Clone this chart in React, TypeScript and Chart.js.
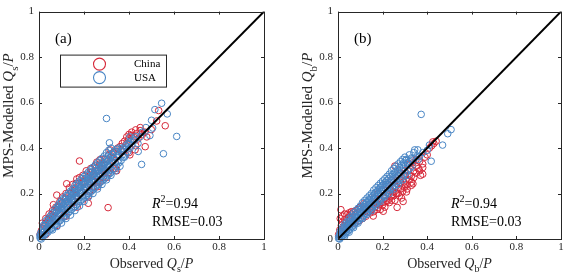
import React, { useEffect, useRef } from 'react';
import { Chart, registerables } from 'chart.js';

Chart.register(...registerables);

// ---------- data ----------
const AXIS_TICKS = [0, 0.2, 0.4, 0.6, 0.8, 1];
const TICK_LABELS = ['0', '0.2', '0.4', '0.6', '0.8', '1'];
const ONE_TO_ONE = [[0, 0], [1, 1]];

// Panel (a): Qs/P
const USA_A = [
  [0.005, 0.004], [0.005, 0.012], [0.005, 0.02], [0.01, 0.0], [0.01, 0.015], [0.01, 0.03],
  [0.018, 0.01], [0.018, 0.028], [0.018, 0.045], [0.025, 0.018], [0.025, 0.035], [0.025, 0.055],
  [0.032, 0.025], [0.032, 0.045], [0.032, 0.065], [0.04, 0.03], [0.04, 0.05], [0.04, 0.072],
  [0.048, 0.04], [0.048, 0.062], [0.048, 0.083], [0.055, 0.045], [0.055, 0.07], [0.055, 0.09],
  [0.063, 0.052], [0.063, 0.078], [0.063, 0.1], [0.07, 0.06], [0.07, 0.085], [0.07, 0.11],
  [0.078, 0.065], [0.078, 0.095], [0.078, 0.12], [0.085, 0.075], [0.085, 0.1], [0.085, 0.128], [0.085, 0.145],
  [0.093, 0.08], [0.093, 0.11], [0.093, 0.135], [0.1, 0.088], [0.1, 0.115], [0.1, 0.142], [0.1, 0.16],
  [0.108, 0.095], [0.108, 0.125], [0.108, 0.15], [0.115, 0.1], [0.115, 0.13], [0.115, 0.158], [0.115, 0.175],
  [0.123, 0.11], [0.123, 0.14], [0.123, 0.165], [0.13, 0.115], [0.13, 0.148], [0.13, 0.172], [0.13, 0.19],
  [0.138, 0.122], [0.138, 0.155], [0.138, 0.18], [0.145, 0.13], [0.145, 0.162], [0.145, 0.19], [0.145, 0.205],
  [0.153, 0.138], [0.153, 0.17], [0.153, 0.198], [0.16, 0.142], [0.16, 0.178], [0.16, 0.205], [0.16, 0.222],
  [0.168, 0.15], [0.168, 0.185], [0.168, 0.212], [0.175, 0.158], [0.175, 0.19], [0.175, 0.22], [0.175, 0.238],
  [0.183, 0.165], [0.183, 0.2], [0.183, 0.228], [0.19, 0.172], [0.19, 0.205], [0.19, 0.235], [0.19, 0.252],
  [0.198, 0.18], [0.198, 0.215], [0.198, 0.242], [0.205, 0.185], [0.205, 0.22], [0.205, 0.25], [0.205, 0.265],
  [0.213, 0.192], [0.213, 0.228], [0.213, 0.258], [0.22, 0.2], [0.22, 0.235], [0.22, 0.262], [0.22, 0.28],
  [0.228, 0.205], [0.228, 0.242], [0.228, 0.27], [0.235, 0.212], [0.235, 0.25], [0.235, 0.278], [0.235, 0.295],
  [0.243, 0.22], [0.243, 0.258], [0.243, 0.285], [0.25, 0.228], [0.25, 0.262], [0.25, 0.29], [0.25, 0.31],
  [0.258, 0.235], [0.258, 0.27], [0.258, 0.298], [0.265, 0.24], [0.265, 0.278], [0.265, 0.305], [0.265, 0.322],
  [0.273, 0.25], [0.273, 0.285], [0.273, 0.312], [0.28, 0.255], [0.28, 0.292], [0.28, 0.32], [0.28, 0.335],
  [0.288, 0.262], [0.288, 0.3], [0.288, 0.328], [0.295, 0.27], [0.295, 0.305], [0.295, 0.335], [0.295, 0.35],
  [0.303, 0.278], [0.303, 0.315], [0.303, 0.342], [0.31, 0.285], [0.31, 0.32], [0.31, 0.35], [0.31, 0.37],
  [0.318, 0.29], [0.318, 0.33], [0.318, 0.36], [0.325, 0.3], [0.325, 0.34], [0.325, 0.372],
  [0.335, 0.31], [0.335, 0.35], [0.335, 0.385], [0.345, 0.32], [0.345, 0.36], [0.345, 0.395],
  [0.355, 0.335], [0.355, 0.372], [0.355, 0.4], [0.365, 0.345], [0.365, 0.385], [0.375, 0.36], [0.375, 0.395],
  [0.385, 0.37], [0.385, 0.41], [0.395, 0.385], [0.395, 0.42], [0.405, 0.4], [0.405, 0.43],
  [0.02, 0.06], [0.03, 0.08], [0.04, 0.09], [0.05, 0.1], [0.06, 0.115], [0.07, 0.13], [0.08, 0.14],
  [0.09, 0.155], [0.1, 0.17], [0.11, 0.18], [0.12, 0.19], [0.13, 0.2], [0.14, 0.21], [0.15, 0.22],
  [0.16, 0.235], [0.17, 0.245], [0.18, 0.255], [0.19, 0.265], [0.2, 0.275], [0.21, 0.285], [0.22, 0.295],
  [0.23, 0.305], [0.24, 0.315], [0.25, 0.325], [0.26, 0.335], [0.27, 0.345], [0.28, 0.355], [0.29, 0.365],
  [0.3, 0.38], [0.31, 0.39], [0.32, 0.4],
  [0.06, 0.04], [0.08, 0.055], [0.1, 0.07], [0.12, 0.09], [0.14, 0.105], [0.16, 0.125], [0.18, 0.145],
  [0.2, 0.165], [0.22, 0.185], [0.24, 0.2], [0.26, 0.22], [0.28, 0.24], [0.3, 0.26], [0.32, 0.28],
  [0.34, 0.3], [0.36, 0.32],
  [0.105, 0.135], [0.125, 0.155], [0.145, 0.175], [0.165, 0.2], [0.185, 0.215], [0.205, 0.24], [0.225, 0.255],
  [0.245, 0.275], [0.265, 0.29], [0.285, 0.315], [0.305, 0.33], [0.33, 0.36], [0.35, 0.385], [0.37, 0.4],
  [0.39, 0.4], [0.41, 0.41], [0.43, 0.45], [0.45, 0.45], [0.35, 0.34], [0.37, 0.37], [0.4, 0.415], [0.44, 0.42],
  [0.3, 0.53], [0.313, 0.423], [0.404, 0.449], [0.425, 0.434], [0.441, 0.385], [0.456, 0.328],
  [0.493, 0.455], [0.505, 0.488], [0.5, 0.522], [0.515, 0.569], [0.545, 0.597], [0.57, 0.55],
  [0.553, 0.375], [0.612, 0.451], [0.42, 0.44], [0.46, 0.47], [0.475, 0.49], [0.38, 0.36],
];
const CHINA_A = [
  [0.005, 0.02], [0.01, 0.035], [0.015, 0.045], [0.02, 0.03], [0.025, 0.06], [0.03, 0.07], [0.035, 0.05],
  [0.04, 0.08], [0.045, 0.09], [0.05, 0.07], [0.056, 0.108], [0.06, 0.1], [0.064, 0.151], [0.07, 0.12],
  [0.075, 0.09], [0.079, 0.193], [0.085, 0.14], [0.093, 0.165], [0.1, 0.13], [0.105, 0.16], [0.11, 0.1],
  [0.118, 0.18], [0.123, 0.243], [0.13, 0.16], [0.138, 0.2], [0.145, 0.207], [0.15, 0.17], [0.158, 0.22],
  [0.165, 0.19], [0.168, 0.264], [0.175, 0.23], [0.18, 0.343], [0.185, 0.2], [0.19, 0.25], [0.2, 0.25],
  [0.205, 0.23], [0.212, 0.27], [0.219, 0.157], [0.225, 0.21], [0.227, 0.292], [0.235, 0.26], [0.24, 0.23],
  [0.249, 0.321], [0.257, 0.338], [0.255, 0.28], [0.26, 0.25], [0.265, 0.3], [0.271, 0.25], [0.271, 0.349],
  [0.28, 0.31], [0.285, 0.27], [0.29, 0.33], [0.295, 0.3], [0.301, 0.349], [0.307, 0.138], [0.308, 0.292],
  [0.316, 0.392], [0.32, 0.36], [0.33, 0.31], [0.338, 0.335], [0.345, 0.3], [0.345, 0.37], [0.352, 0.37],
  [0.36, 0.406], [0.365, 0.39], [0.375, 0.385], [0.38, 0.43], [0.39, 0.42], [0.39, 0.449], [0.398, 0.44],
  [0.404, 0.37], [0.41, 0.455], [0.412, 0.47], [0.42, 0.45], [0.427, 0.392], [0.434, 0.463], [0.44, 0.44],
  [0.449, 0.477], [0.46, 0.46], [0.472, 0.406], [0.479, 0.449], [0.499, 0.481], [0.523, 0.519],
  [0.532, 0.565], [0.561, 0.498],
  [0.015, 0.07], [0.03, 0.09], [0.045, 0.11], [0.06, 0.125], [0.075, 0.14], [0.09, 0.15], [0.105, 0.185],
  [0.12, 0.2], [0.135, 0.225], [0.15, 0.24], [0.165, 0.245], [0.18, 0.27], [0.195, 0.28], [0.21, 0.3],
  [0.23, 0.31], [0.25, 0.3], [0.27, 0.33], [0.29, 0.35], [0.31, 0.37], [0.33, 0.38], [0.35, 0.4],
  [0.37, 0.42], [0.4, 0.46], [0.43, 0.48], [0.45, 0.49], [0.47, 0.47],
  [0.03, 0.02], [0.08, 0.06], [0.12, 0.1], [0.17, 0.14], [0.22, 0.19], [0.26, 0.23], [0.3, 0.27],
  [0.34, 0.31], [0.4, 0.38], [0.43, 0.41],
];

// Panel (b): Qb/P
const USA_B = [
  [0.003, 0.002], [0.003, 0.01], [0.008, 0.0], [0.008, 0.012], [0.008, 0.022], [0.014, 0.008], [0.014, 0.02], [0.014, 0.032],
  [0.02, 0.012], [0.02, 0.025], [0.02, 0.04], [0.026, 0.018], [0.026, 0.032], [0.026, 0.046],
  [0.032, 0.022], [0.032, 0.038], [0.032, 0.055], [0.038, 0.03], [0.038, 0.045], [0.038, 0.06],
  [0.045, 0.035], [0.045, 0.052], [0.045, 0.068], [0.052, 0.042], [0.052, 0.06], [0.052, 0.078],
  [0.058, 0.05], [0.058, 0.066], [0.058, 0.085], [0.065, 0.055], [0.065, 0.072], [0.065, 0.092],
  [0.072, 0.062], [0.072, 0.08], [0.072, 0.1], [0.079, 0.07], [0.079, 0.088], [0.079, 0.108],
  [0.086, 0.076], [0.086, 0.095], [0.086, 0.115], [0.093, 0.082], [0.093, 0.102], [0.093, 0.122],
  [0.1, 0.09], [0.1, 0.11], [0.1, 0.13], [0.107, 0.095], [0.107, 0.116], [0.107, 0.138],
  [0.114, 0.102], [0.114, 0.124], [0.114, 0.145], [0.121, 0.11], [0.121, 0.131], [0.121, 0.152],
  [0.128, 0.115], [0.128, 0.138], [0.128, 0.16], [0.135, 0.122], [0.135, 0.145], [0.135, 0.168],
  [0.142, 0.13], [0.142, 0.152], [0.142, 0.175], [0.149, 0.136], [0.149, 0.16], [0.149, 0.182],
  [0.156, 0.142], [0.156, 0.166], [0.156, 0.19], [0.163, 0.15], [0.163, 0.174], [0.163, 0.198],
  [0.17, 0.155], [0.17, 0.18], [0.17, 0.205], [0.177, 0.162], [0.177, 0.188], [0.177, 0.212],
  [0.184, 0.17], [0.184, 0.195], [0.184, 0.22], [0.191, 0.175], [0.191, 0.202], [0.191, 0.228],
  [0.198, 0.182], [0.198, 0.21], [0.198, 0.235], [0.205, 0.19], [0.205, 0.218], [0.205, 0.242],
  [0.213, 0.196], [0.213, 0.225], [0.213, 0.25], [0.22, 0.205], [0.22, 0.232], [0.22, 0.258],
  [0.228, 0.212], [0.228, 0.24], [0.228, 0.266], [0.236, 0.22], [0.236, 0.248], [0.236, 0.274],
  [0.244, 0.228], [0.244, 0.256], [0.244, 0.282], [0.252, 0.236], [0.252, 0.265], [0.252, 0.29],
  [0.26, 0.245], [0.26, 0.272], [0.26, 0.298], [0.268, 0.252], [0.268, 0.28], [0.268, 0.305],
  [0.276, 0.26], [0.276, 0.29], [0.276, 0.315], [0.285, 0.27], [0.285, 0.3], [0.285, 0.325],
  [0.294, 0.28], [0.294, 0.31], [0.294, 0.335], [0.303, 0.29], [0.303, 0.322], [0.303, 0.345],
  [0.312, 0.3], [0.312, 0.33], [0.322, 0.31], [0.322, 0.34], [0.332, 0.32], [0.332, 0.352],
  [0.01, 0.035], [0.02, 0.05], [0.03, 0.065], [0.04, 0.075], [0.05, 0.09], [0.06, 0.1], [0.07, 0.115],
  [0.08, 0.125], [0.09, 0.135], [0.1, 0.145], [0.11, 0.16], [0.12, 0.17], [0.13, 0.18], [0.14, 0.19],
  [0.15, 0.2], [0.16, 0.215], [0.17, 0.225], [0.18, 0.235], [0.19, 0.245], [0.2, 0.255], [0.21, 0.265],
  [0.22, 0.275], [0.23, 0.285], [0.24, 0.3], [0.25, 0.31], [0.26, 0.32], [0.27, 0.33], [0.28, 0.34],
  [0.3, 0.36], [0.32, 0.37], [0.34, 0.38],
  [0.03, 0.012], [0.05, 0.03], [0.07, 0.05], [0.09, 0.07], [0.11, 0.09], [0.13, 0.108], [0.15, 0.125],
  [0.17, 0.145], [0.19, 0.165], [0.21, 0.185], [0.23, 0.2], [0.25, 0.22], [0.27, 0.24], [0.29, 0.26],
  [0.31, 0.28],
  [0.307, 0.349], [0.314, 0.335], [0.329, 0.356], [0.344, 0.392], [0.358, 0.392], [0.366, 0.363],
  [0.373, 0.548], [0.418, 0.342], [0.41, 0.413], [0.469, 0.413], [0.492, 0.463], [0.507, 0.481],
  [0.35, 0.36], [0.36, 0.35], [0.38, 0.38], [0.4, 0.39], [0.29, 0.35],
];
const CHINA_B = [
  [0.003, 0.02], [0.008, 0.04], [0.013, 0.129], [0.015, 0.06], [0.02, 0.075], [0.025, 0.05], [0.03, 0.085],
  [0.035, 0.07], [0.04, 0.108], [0.045, 0.06], [0.05, 0.095], [0.055, 0.09], [0.06, 0.11], [0.065, 0.08],
  [0.07, 0.12], [0.075, 0.07], [0.084, 0.094], [0.09, 0.13], [0.095, 0.08], [0.1, 0.12], [0.11, 0.09],
  [0.12, 0.14], [0.125, 0.1], [0.13, 0.12], [0.14, 0.15], [0.145, 0.115], [0.15, 0.13], [0.158, 0.101],
  [0.16, 0.18], [0.165, 0.14], [0.17, 0.16], [0.175, 0.13], [0.18, 0.2], [0.185, 0.15], [0.19, 0.17],
  [0.195, 0.215], [0.2, 0.16], [0.203, 0.122], [0.21, 0.18], [0.215, 0.24], [0.218, 0.165], [0.225, 0.2],
  [0.23, 0.175], [0.232, 0.214], [0.235, 0.22], [0.24, 0.19], [0.247, 0.207], [0.25, 0.25], [0.255, 0.321],
  [0.26, 0.23], [0.262, 0.2], [0.265, 0.139], [0.27, 0.2], [0.275, 0.26], [0.28, 0.22], [0.285, 0.18],
  [0.292, 0.165], [0.295, 0.25], [0.299, 0.228], [0.3, 0.28], [0.307, 0.207], [0.31, 0.24], [0.315, 0.3],
  [0.32, 0.26], [0.329, 0.236], [0.329, 0.276], [0.336, 0.243], [0.336, 0.335], [0.34, 0.3], [0.35, 0.32],
  [0.366, 0.3], [0.366, 0.342], [0.38, 0.285], [0.38, 0.314], [0.39, 0.36], [0.41, 0.4], [0.425, 0.427],
  [0.43, 0.42], [0.28, 0.29], [0.24, 0.26],
  [0.16, 0.12], [0.18, 0.14], [0.19, 0.13], [0.2, 0.15], [0.21, 0.14], [0.22, 0.17], [0.23, 0.16],
  [0.24, 0.17], [0.25, 0.19], [0.255, 0.17], [0.26, 0.2], [0.27, 0.22], [0.275, 0.19], [0.28, 0.25],
  [0.29, 0.21], [0.3, 0.24], [0.305, 0.26], [0.31, 0.22], [0.32, 0.28], [0.33, 0.25], [0.34, 0.27],
  [0.35, 0.29], [0.36, 0.31], [0.37, 0.28], [0.38, 0.33], [0.4, 0.37], [0.42, 0.41], [0.44, 0.43],
  [0.35, 0.35], [0.32, 0.33], [0.3, 0.3], [0.27, 0.28],
  [0.01, 0.09], [0.02, 0.1], [0.03, 0.11], [0.05, 0.115], [0.06, 0.12], [0.08, 0.125], [0.1, 0.14],
  [0.115, 0.155],
];

// ---------- styling ----------
const RED = 'rgb(214,40,57)';
const BLUE = 'rgb(72,133,196)';
const AXIS_COLOR = '#262626';
const FONT = '"Liberation Serif", "Times New Roman", serif';

type Part = { t: string; it?: boolean; sub?: boolean; sup?: boolean };

function partFont(p: Part, size: number) {
  const s = p.sub || p.sup ? Math.round(size * 0.72) : size;
  return `${p.it ? 'italic ' : ''}${s}px ${FONT}`;
}

function drawRich(ctx: CanvasRenderingContext2D, parts: Part[], x: number, y: number, size: number, align: 'left' | 'center') {
  let total = 0;
  const widths = parts.map((p) => {
    ctx.font = partFont(p, size);
    const w = ctx.measureText(p.t).width;
    total += w;
    return w;
  });
  let cx = align === 'center' ? x - total / 2 : x;
  ctx.textAlign = 'left';
  ctx.textBaseline = 'alphabetic';
  parts.forEach((p, i) => {
    ctx.font = partFont(p, size);
    const dy = p.sub ? size * 0.3 : p.sup ? -size * 0.42 : 0;
    ctx.fillText(p.t, cx, y + dy);
    cx += widths[i];
  });
}

function framePlugin(label: string, sub: string, withLegend: boolean) {
  return {
    id: 'frame' + label,
    afterDraw(chart: any) {
      const { ctx, chartArea } = chart;
      const { left, right, top, bottom } = chartArea;
      const xs = chart.scales.x;
      const ys = chart.scales.y;
      ctx.save();
      ctx.strokeStyle = AXIS_COLOR;
      ctx.lineWidth = 1;
      ctx.strokeRect(Math.round(left) + 0.5, Math.round(top) + 0.5, Math.round(right - left), Math.round(bottom - top));
      const tl = 3;
      ctx.beginPath();
      AXIS_TICKS.forEach((v) => {
        const px = Math.round(xs.getPixelForValue(v)) + 0.5;
        ctx.moveTo(px, bottom);
        ctx.lineTo(px, bottom - tl);
        ctx.moveTo(px, top);
        ctx.lineTo(px, top + tl);
        const py = Math.round(ys.getPixelForValue(v)) + 0.5;
        ctx.moveTo(left, py);
        ctx.lineTo(left + tl, py);
        ctx.moveTo(right, py);
        ctx.lineTo(right - tl, py);
      });
      ctx.stroke();

      ctx.fillStyle = AXIS_COLOR;
      drawRich(
        ctx,
        [{ t: 'Observed ' }, { t: 'Q', it: true }, { t: sub, sub: true }, { t: '/' }, { t: 'P', it: true }],
        (left + right) / 2,
        268,
        14,
        'center'
      );
      ctx.save();
      ctx.translate(left - 26, top + 104);
      ctx.rotate(-Math.PI / 2);
      drawRich(
        ctx,
        [{ t: 'MPS-Modelled ' }, { t: 'Q', it: true }, { t: sub, sub: true }, { t: '/' }, { t: 'P', it: true }],
        0,
        0,
        15,
        'center'
      );
      ctx.restore();

      ctx.fillStyle = '#000';
      ctx.font = `15px ${FONT}`;
      ctx.textAlign = 'left';
      ctx.textBaseline = 'alphabetic';
      ctx.fillText(label, left + 16, top + 31);

      drawRich(ctx, [{ t: 'R', it: true }, { t: '2', sup: true }, { t: '=0.94' }], left + 113, top + 196, 14, 'left');
      drawRich(ctx, [{ t: 'RMSE=0.03' }], left + 113, top + 214, 14, 'left');

      if (withLegend) {
        const bx = left + 21;
        const by = top + 43;
        ctx.fillStyle = '#fff';
        ctx.fillRect(bx, by, 106, 32);
        ctx.strokeStyle = AXIS_COLOR;
        ctx.lineWidth = 1;
        ctx.strokeRect(bx + 0.5, by + 0.5, 106, 32);
        ctx.lineWidth = 1.1;
        ctx.strokeStyle = RED;
        ctx.beginPath();
        ctx.arc(bx + 39.5, by + 9.5, 6, 0, Math.PI * 2);
        ctx.stroke();
        ctx.strokeStyle = BLUE;
        ctx.beginPath();
        ctx.arc(bx + 39.5, by + 23, 6, 0, Math.PI * 2);
        ctx.stroke();
        ctx.fillStyle = '#000';
        ctx.font = `11px ${FONT}`;
        ctx.textBaseline = 'middle';
        ctx.fillText('China', bx + 74, by + 10);
        ctx.fillText('USA', bx + 74, by + 23.5);
      }
      ctx.restore();
    },
  };
}

function toPts(arr: number[][]) {
  return arr.map(([x, y]) => ({ x, y }));
}

function makeConfig(usa: number[][], china: number[][], label: string, sub: string, yWidth: number, padRight: number, legend: boolean): any {
  const tickOpts = {
    font: { family: FONT, size: 11 },
    color: AXIS_COLOR,
    autoSkip: false,
    maxRotation: 0,
    callback: (_v: any, i: number) => TICK_LABELS[i],
  };
  const scatterStyle = {
    pointStyle: 'circle',
    pointRadius: 3.3,
    borderWidth: 1,
    backgroundColor: 'rgba(0,0,0,0)',
    showLine: false,
    clip: false,
  };
  return {
    type: 'scatter',
    data: {
      datasets: [
        {
          type: 'line',
          label: '1:1',
          data: toPts(ONE_TO_ONE),
          borderColor: '#000',
          borderWidth: 2,
          pointRadius: 0,
          fill: false,
          order: 0,
        },
        { label: 'USA', data: toPts(usa), borderColor: BLUE, pointBorderColor: BLUE, order: 1, ...scatterStyle },
        { label: 'China', data: toPts(china), borderColor: RED, pointBorderColor: RED, order: 2, ...scatterStyle },
      ],
    },
    options: {
      responsive: false,
      animation: false,
      events: [],
      layout: { padding: { top: 4, right: padRight, bottom: 0, left: 0 } },
      plugins: { legend: { display: false }, tooltip: { enabled: false } },
      scales: {
        x: {
          type: 'linear',
          min: 0,
          max: 1,
          afterBuildTicks: (s: any) => {
            s.ticks = AXIS_TICKS.map((v) => ({ value: v }));
          },
          afterFit: (s: any) => {
            s.height = 37;
          },
          ticks: { ...tickOpts, padding: 2 },
          grid: { display: false, drawTicks: false },
          border: { display: false },
        },
        y: {
          type: 'linear',
          min: 0,
          max: 1,
          afterBuildTicks: (s: any) => {
            s.ticks = AXIS_TICKS.map((v) => ({ value: v }));
          },
          afterFit: (s: any) => {
            s.width = yWidth;
          },
          ticks: { ...tickOpts, padding: 5 },
          grid: { display: false, drawTicks: false },
          border: { display: false },
        },
      },
    },
    plugins: [framePlugin(label, sub, legend)],
  };
}

function Panel(props: { left: number; width: number; cfg: () => any }) {
  const ref = useRef<HTMLCanvasElement | null>(null);
  useEffect(() => {
    if (!ref.current) return;
    const chart = new Chart(ref.current, props.cfg());
    return () => chart.destroy();
  }, []);
  return (
    <canvas
      ref={ref}
      width={props.width}
      height={276}
      style={{ position: 'absolute', left: props.left, top: 0, width: props.width, height: 276 }}
    />
  );
}

export default function App() {
  return (
    <div style={{ position: 'fixed', left: 0, top: 0, width: 566, height: 276, background: '#fff' }}>
      <Panel left={0} width={290} cfg={() => makeConfig(USA_A, CHINA_A, '(a)', 's', 39, 26, true)} />
      <Panel left={290} width={276} cfg={() => makeConfig(USA_B, CHINA_B, '(b)', 'b', 48, 3, false)} />
    </div>
  );
}
